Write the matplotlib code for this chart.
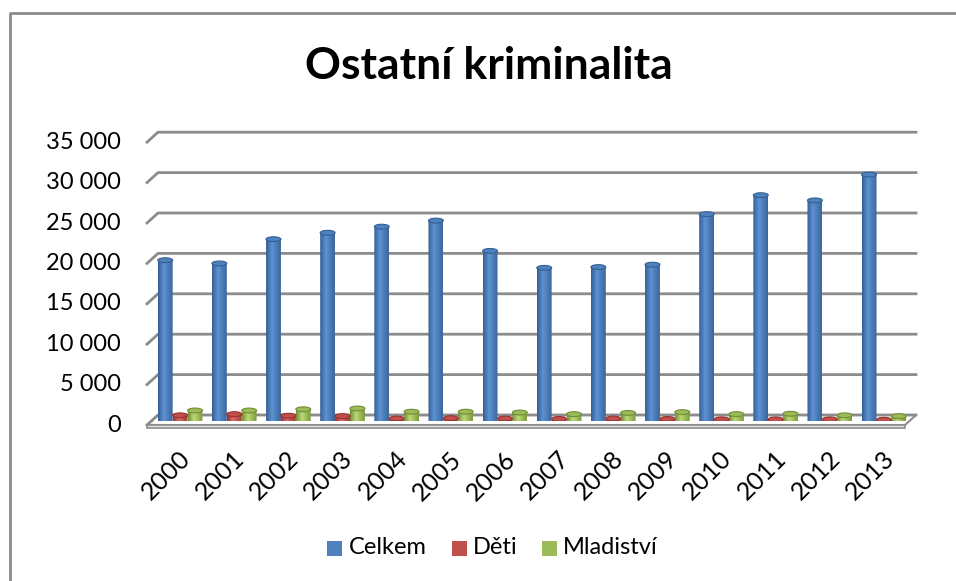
import numpy as np
import matplotlib
matplotlib.use("Agg")
import matplotlib.pyplot as plt
import matplotlib.transforms as mtransforms
from matplotlib.patches import Ellipse, Polygon, Rectangle, PathPatch
from matplotlib.path import Path
from matplotlib.colors import LinearSegmentedColormap
from matplotlib.lines import Line2D

# data
years = [str(y) for y in range(2000, 2014)]
celkem = [19900, 19500, 22500, 23300, 24050, 24800, 21050, 18950,
          19050, 19350, 25600, 27950, 27300, 30500]
deti = [700, 850, 650, 600, 300, 350, 300, 250, 300, 250, 200, 200, 200, 150]
mladistvi = [1300, 1300, 1450, 1550, 1150, 1150, 1050, 850, 1000, 1100,
             850, 900, 700, 600]
series_names = ["Celkem", "Děti", "Mladiství"]
series_colors = ["#4f81bd", "#c0504d", "#9bbb59"]
shades = [("#345f94", "#5d92d4", "#3b6699"),
          ("#9a302d", "#dc6a66", "#a53834"),
          ("#728d36", "#bcd976", "#7d9a3c")]
yticks = list(range(0, 35001, 5000))

plt.rcParams['font.family'] = ['Lato', 'DejaVu Sans']

W, H = 956, 581
fig = plt.figure(figsize=(W / 100, H / 100), dpi=100)


def fx(x):
    return x / W


def fy(y):
    return 1 - y / H


# bar plane of the fake 3D chart
ax = fig.add_axes([fx(151.4), fy(421), (909.4 - 151.4) / W, 282.8 / H])
ax.set_xlim(0, len(years))
ax.set_ylim(0, 35000)
ax.axis('off')

back = mtransforms.offset_copy(ax.transData, fig=fig, x=6.6, y=6, units='dots')
front = mtransforms.offset_copy(ax.transData, fig=fig, x=-4.4, y=-4, units='dots')
ident = mtransforms.IdentityTransform()
grid_col = "#8c8c8c"

# floor
n = len(years)
pts = [back.transform((0, 0)), back.transform((n, 0)),
       front.transform((n, 0)), front.transform((0, 0))]
ax.add_patch(Polygon(pts, closed=True, transform=ident, facecolor="white",
                     edgecolor=grid_col, lw=1.5, zorder=1, clip_on=False))
p2, p3 = front.transform((n, 0)), front.transform((0, 0))
slab = [p3, p2, (p2[0], p2[1] - 3), (p3[0], p3[1] - 3)]
ax.add_patch(Polygon(slab, closed=True, transform=ident, facecolor="#e6e6e6",
                     edgecolor=grid_col, lw=1.2, zorder=1, clip_on=False))

# gridlines on the back wall + left wall edges + tick labels
for v in yticks:
    b0 = back.transform((0, v))
    b1 = back.transform((n, v))
    f0 = front.transform((0, v))
    ax.add_line(Line2D([f0[0], b0[0], b1[0]], [f0[1], b0[1], b1[1]],
                       transform=ident, color=grid_col, lw=2, zorder=2,
                       clip_on=False))
    fig.text(fx(121), f0[1] / H, f"{v:,}".replace(",", " "), ha='right',
             va='center', fontsize=17, color="#000000")

# cylinders
bw = 0.275
eh = 600
for j, vals in enumerate([celkem, deti, mladistvi]):
    cmap = LinearSegmentedColormap.from_list(
        "c%d" % j, [(0, shades[j][0]), (0.4, shades[j][1]), (1, shades[j][2])])
    for i, v in enumerate(vals):
        xc = i + 0.53 + (j - 1) * bw
        x0, x1 = xc - bw / 2, xc + bw / 2
        t = np.linspace(np.pi, 2 * np.pi, 30)
        verts = [(x0, v)] + list(zip(xc + bw / 2 * np.cos(t), eh / 2 * np.sin(t))) + [(x1, v), (x0, v)]
        path = Path(verts, closed=True)
        body = PathPatch(path, facecolor='none', edgecolor='none', zorder=3)
        ax.add_patch(body)
        grad = np.linspace(0, 1, 64).reshape(1, -1)
        im = ax.imshow(grad, cmap=cmap, extent=[x0, x1, -eh / 2, v],
                       aspect='auto', zorder=3, interpolation='bilinear')
        im.set_clip_path(body)
        ax.add_patch(Ellipse((xc, v), bw, eh, facecolor=series_colors[j],
                             edgecolor=shades[j][0], lw=0.8, zorder=4))

ax.set_xlim(0, n)
ax.set_ylim(0, 35000)

# x labels
for i, yr in enumerate(years):
    ax.annotate(yr, (i + 0.5, 0), xytext=(0, -26), textcoords='offset pixels',
                rotation=45, ha='right', va='top', rotation_mode='anchor',
                fontsize=18, annotation_clip=False)

# title
fig.text(fx(489), fy(66), "Ostatní kriminalita", ha='center', va='center',
         fontsize=32, fontweight='bold')

# legend
leg_items = [(327, 349), (452, 473), (542, 563)]
for (sx, tx), name, col in zip(leg_items, series_names, series_colors):
    fig.patches.append(Rectangle((fx(sx), fy(556)), 15 / W, 15 / H,
                                 transform=fig.transFigure, facecolor=col,
                                 edgecolor='none'))
    fig.text(fx(tx), fy(548), name, ha='left', va='center', fontsize=17)

# chart border
fig.lines.append(Line2D([fx(9.5), fx(9.5), 1], [0, fy(12.5), fy(12.5)],
                        transform=fig.transFigure, color=grid_col, lw=2))

fig.savefig("out.png", dpi=100, facecolor='white')
